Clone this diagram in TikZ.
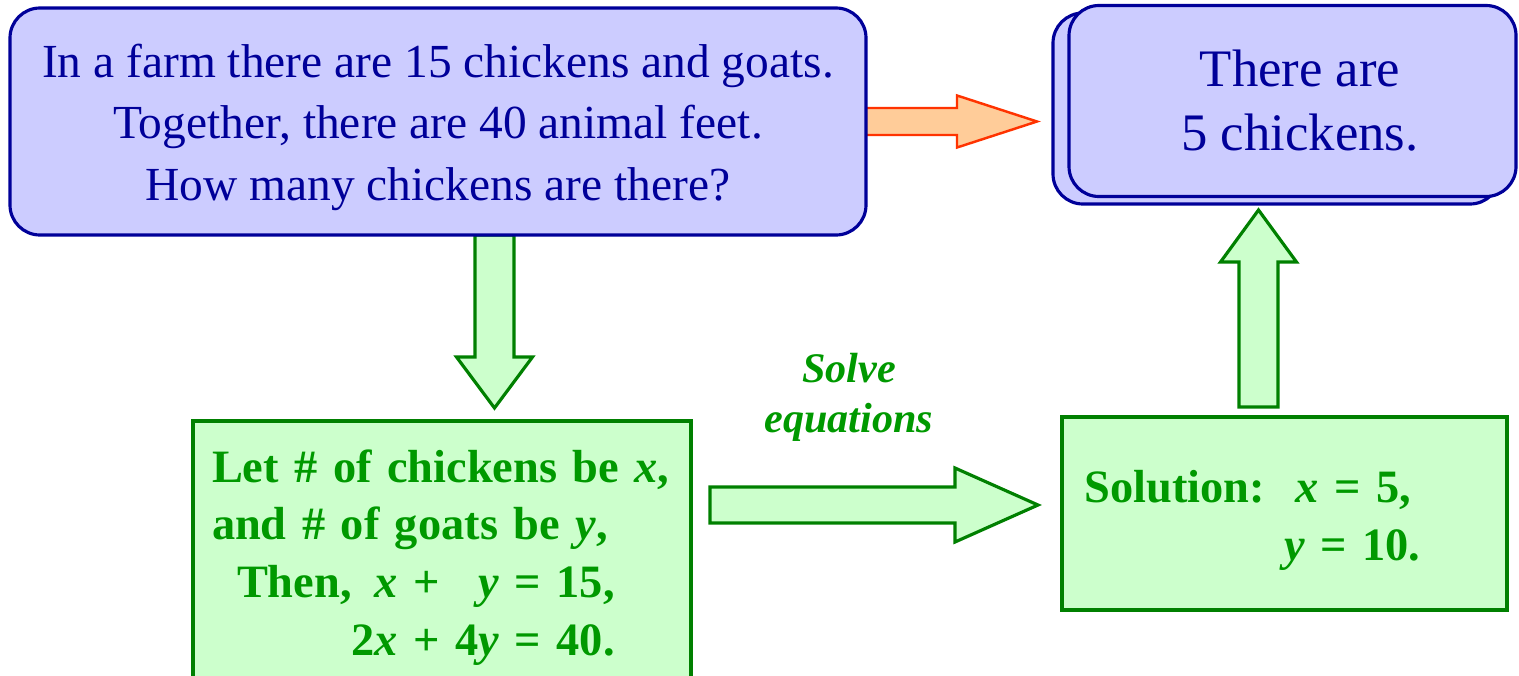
\documentclass[tikz,border=0pt]{standalone}
\usepackage{fontspec}
\setmainfont{Liberation Serif}
\usetikzlibrary{calc,backgrounds}
\definecolor{boxBlue}{HTML}{CCCCFF}
\definecolor{lineBlue}{HTML}{000099}
\definecolor{boxGreen}{HTML}{CCFFCC}
\definecolor{lineGreen}{HTML}{008000}
\definecolor{textGreen}{HTML}{009900}
\definecolor{boxOrange}{HTML}{FFCC99}
\definecolor{lineOrange}{HTML}{FF3300}
% block arrow: style, from, to, shaft half width, head half width, head length
\newcommand{\fatarrow}[6][]{%
  \coordinate (fahead) at ($(#3)!#6!(#2)$);
  \draw[#1] ($(#2)!#4!90:(#3)$) -- ($(fahead)!#4!90:(#3)$) -- ($(fahead)!#5!90:(#3)$)
    -- (#3) -- ($(fahead)!#5!-90:(#3)$) -- ($(fahead)!#4!-90:(#3)$) -- ($(#2)!#4!-90:(#3)$) -- cycle;}

\begin{document}
\begin{tikzpicture}[
      bluebox/.style={draw=lineBlue, fill=boxBlue, line width=0.9pt, rounded corners=0.3cm,
                      outer sep=0pt, text=lineBlue, align=center},
      greenbox/.style={draw=lineGreen, fill=boxGreen, line width=1.1pt, outer sep=0pt,
                       text=textGreen, align=left, font=\fontsize{13.2}{16.4}\selectfont\bfseries},
      greenarrow/.style={draw=lineGreen, fill=boxGreen, line width=0.9pt},
      orangearrow/.style={draw=lineOrange, fill=boxOrange, line width=0.7pt},
      lbl/.style={text=textGreen, font=\fontsize{12}{14.2}\selectfont\bfseries\itshape, align=center}]
    \useasboundingbox (0,0) rectangle (15.19,-6.75);
    % question and answer
    \node[bluebox, minimum width=8.56cm, minimum height=2.27cm,
          font=\fontsize{13.5}{17.4}\selectfont] (q) at (4.38,-1.215)
      {\rule{0pt}{0.45cm}In a farm there are 15 chickens and goats.\\Together, there are 40 animal feet.\\How many chickens are there?};
    \node[bluebox, minimum width=4.47cm, minimum height=1.91cm] (ansback) at (12.765,-1.085) {};
    \node[bluebox, minimum width=4.47cm, minimum height=1.91cm,
          font=\fontsize{15}{18.2}\selectfont] (ans) at (12.925,-1.01)
      {\hspace*{0.15cm}There are\\\hspace*{0.15cm}5 chickens.};
    % equations
    \node[greenbox, minimum width=4.98cm, minimum height=2.8cm, text width=4.6cm,
          inner xsep=0.19cm] (let) at (4.42,-5.61)
      {Let \# of chickens be \textit{x},\\and \# of goats be \textit{y},\\
       \hspace*{0.25cm}\begin{tabular}[t]{@{}l@{}r@{\ }c@{\ }r@{\ }l@{}}
         Then,\ & \textit{x} & + & \textit{y} & = 15,\\
                & 2\textit{x} & + & 4\textit{y} & = 40.
       \end{tabular}};
    \node[greenbox, minimum width=4.45cm, minimum height=1.93cm, text width=4.0cm,
          inner xsep=0.225cm] (sol) at (12.845,-5.135)
      {\rule{0pt}{0.46cm}Solution:\ \ \textit{x} = 5,\\\hspace*{2cm}\textit{y} = 10.};
    \node[lbl] (solve) at (8.49,-3.97) {Solve\\equations};
    % arrows
    \begin{scope}[on background layer]
      \coordinate (orangeTip) at ($(q.east)+(1.71,0)$);
      \coordinate (downS) at ($(q.south)+(0.565,0)$);
      \coordinate (downE) at ($(let.north)+(0.525,0.13)$);
      \coordinate (rightE) at ($(sol.west)+(-0.24,0.085)$);
      \coordinate (rightS) at ($(let.east |- rightE)+(0.19,0)$);
      \coordinate (upS) at ($(sol.north)+(-0.26,0.10)$);
      \coordinate (upE) at ($(ansback.south)+(-0.18,-0.06)$);
      \fatarrow[orangearrow]{q.east}{orangeTip}{0.135cm}{0.26cm}{0.80cm}
      \fatarrow[greenarrow]{downS}{downE}{0.195cm}{0.38cm}{0.51cm}
      \fatarrow[greenarrow]{rightS}{rightE}{0.18cm}{0.37cm}{0.83cm}
      \fatarrow[greenarrow]{upS}{upE}{0.195cm}{0.38cm}{0.52cm}
    \end{scope}
  \end{tikzpicture}
\end{document}
